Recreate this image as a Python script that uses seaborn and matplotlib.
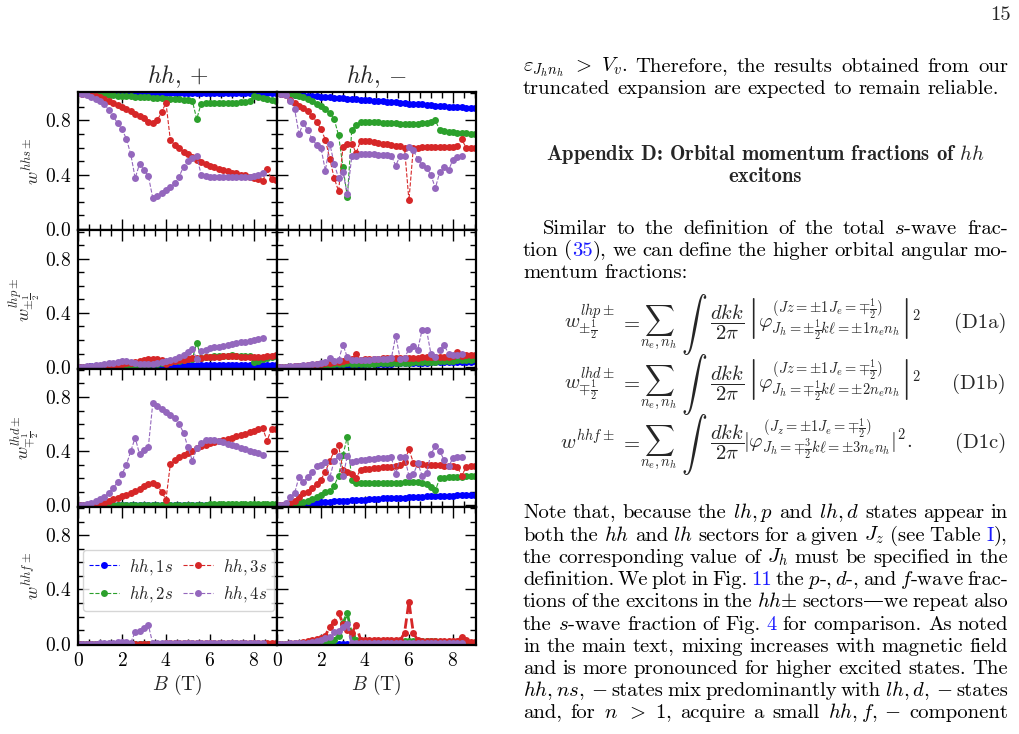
import re
import matplotlib
matplotlib.use("Agg")
import matplotlib.pyplot as plt
from matplotlib.ticker import MultipleLocator
import seaborn as sns

# ---------------------------------------------------------
# data: orbital fractions vs B, grid 0 .. 9 T
# ---------------------------------------------------------
B = [0.0, 0.2, 0.4, 0.6, 0.8, 1.0, 1.2, 1.4, 1.6, 1.8,
     2.0, 2.2, 2.4, 2.6, 2.8, 3.0, 3.2, 3.4, 3.6, 3.8,
     4.0, 4.2, 4.4, 4.6, 4.8, 5.0, 5.2, 5.4, 5.6, 5.8,
     6.0, 6.2, 6.4, 6.6, 6.8, 7.0, 7.2, 7.4, 7.6, 7.8,
     8.0, 8.2, 8.4, 8.6, 8.8, 9.0]

labels = [r'$hh,1s$', r'$hh,2s$', r'$hh,3s$', r'$hh,4s$']
colors = ['#0000ff', '#2ca02c', '#d62728', '#9467bd']

# s-wave, hh+
s_p1 = [1.0, 1.0, 1.0, 1.0, 1.0, 1.0, 1.0, 1.0, 1.0, 1.0,
        1.0, 1.0, 1.0, 1.0, 1.0, 1.0, 1.0, 1.0, 1.0, 1.0,
        1.0, 1.0, 1.0, 1.0, 1.0, 1.0, 1.0, 1.0, 1.0, 1.0,
        1.0, 1.0, 1.0, 1.0, 1.0, 1.0, 1.0, 1.0, 1.0, 1.0,
        1.0, 1.0, 1.0, 1.0, 1.0, 1.0]
s_p2 = [1.0, 1.0, 0.998, 0.996, 0.994, 0.992, 0.99, 0.988, 0.986, 0.984,
        0.982, 0.98, 0.978, 0.976, 0.974, 0.972, 0.97, 0.968, 0.966, 0.964,
        0.962, 0.96, 0.958, 0.955, 0.952, 0.948, 0.944, 0.81, 0.925, 0.928,
        0.93, 0.93, 0.93, 0.93, 0.93, 0.93, 0.932, 0.934, 0.936, 0.94,
        0.98, 0.972, 0.965, 0.958, 0.95, 0.94]
s_p3 = [1.0, 0.998, 0.995, 0.99, 0.98, 0.97, 0.96, 0.945, 0.93, 0.915,
        0.90, 0.885, 0.87, 0.85, 0.835, 0.815, 0.79, 0.78, 0.80, 0.86,
        0.93, 0.655, 0.62, 0.595, 0.57, 0.55, 0.53, 0.51, 0.495, 0.48,
        0.465, 0.455, 0.445, 0.435, 0.425, 0.415, 0.41, 0.40, 0.395, 0.385,
        0.375, 0.365, 0.35, 0.44, 0.365, 0.36]
s_p4 = [1.0, 0.998, 0.99, 0.975, 0.96, 0.945, 0.92, 0.88, 0.83, 0.78,
        0.735, 0.665, 0.55, 0.375, 0.48, 0.435, 0.39, 0.229, 0.245, 0.266,
        0.285, 0.307, 0.338, 0.385, 0.46, 0.50, 0.52, 0.535, 0.40, 0.39,
        0.385, 0.385, 0.385, 0.385, 0.385, 0.385, 0.385, 0.385, 0.385, 0.385,
        0.39, 0.395, 0.41]

# s-wave, hh-
s_m1 = [1.0, 0.998, 0.995, 0.993, 0.99, 0.988, 0.985, 0.983, 0.98, 0.978,
        0.975, 0.973, 0.97, 0.968, 0.965, 0.963, 0.96, 0.958, 0.955, 0.953,
        0.95, 0.948, 0.945, 0.943, 0.94, 0.938, 0.935, 0.933, 0.93, 0.928,
        0.925, 0.923, 0.92, 0.918, 0.915, 0.913, 0.91, 0.908, 0.905, 0.903,
        0.90, 0.898, 0.896, 0.894, 0.892, 0.89]
s_m2 = [1.0, 0.999, 0.997, 0.993, 0.988, 0.98, 0.97, 0.96, 0.945, 0.925,
        0.905, 0.885, 0.855, 0.81, 0.69, 0.456, 0.236, 0.73, 0.768, 0.786,
        0.79, 0.79, 0.788, 0.786, 0.784, 0.782, 0.78, 0.778, 0.776, 0.775,
        0.775, 0.775, 0.776, 0.778, 0.782, 0.79, 0.80, 0.73, 0.722, 0.718,
        0.714, 0.71, 0.707, 0.704, 0.70, 0.698]
s_m3 = [1.0, 0.995, 0.985, 0.95, 0.93, 0.905, 0.89, 0.87, 0.83, 0.79,
        0.736, 0.658, 0.516, 0.376, 0.278, 0.604, 0.625, 0.63, 0.56, 0.65,
        0.648, 0.645, 0.64, 0.635, 0.63, 0.625, 0.62, 0.615, 0.61, 0.595,
        0.21, 0.60, 0.60, 0.602, 0.604, 0.605, 0.605, 0.605, 0.605, 0.605,
        0.605, 0.61, 0.66, 0.60, 0.595, 0.595]
s_m4 = [1.0, 0.995, 0.985, 0.94, 0.884, 0.70, 0.78, 0.727, 0.663, 0.62,
        0.597, 0.43, 0.63, 0.48, 0.376, 0.418, 0.254, 0.536, 0.536, 0.549,
        0.55, 0.55, 0.55, 0.548, 0.546, 0.544, 0.54, 0.467, 0.54, 0.54,
        0.605, 0.58, 0.518, 0.47, 0.45, 0.40, 0.30, 0.418, 0.457, 0.433,
        0.51, 0.53, 0.536]

# p-wave, hh+
p_p1 = [0.0, 0.002, 0.004, 0.006, 0.008, 0.009, 0.01, 0.011, 0.012, 0.012,
        0.012, 0.012, 0.012, 0.012, 0.012, 0.012, 0.012, 0.012, 0.012, 0.012,
        0.013, 0.013, 0.013, 0.013, 0.013, 0.013, 0.013, 0.013, 0.013, 0.013,
        0.013, 0.013, 0.013, 0.013, 0.013, 0.013, 0.013, 0.013, 0.013, 0.013,
        0.014, 0.014, 0.014, 0.014, 0.014, 0.014]
p_p2 = [0.0, 0.0, 0.001, 0.001, 0.002, 0.002, 0.003, 0.004, 0.005, 0.006,
        0.007, 0.008, 0.01, 0.012, 0.014, 0.016, 0.019, 0.022, 0.025, 0.03,
        0.034, 0.038, 0.043, 0.048, 0.053, 0.058, 0.062, 0.18, 0.07, 0.075,
        0.078, 0.08, 0.082, 0.084, 0.085, 0.086, 0.085, 0.084, 0.082, 0.08,
        0.035, 0.045, 0.06, 0.07, 0.078, 0.082]
p_p3 = [0.0, 0.0, 0.001, 0.002, 0.004, 0.006, 0.008, 0.011, 0.014, 0.018,
        0.022, 0.027, 0.033, 0.04, 0.047, 0.053, 0.058, 0.061, 0.062, 0.05,
        0.025, 0.04, 0.045, 0.05, 0.055, 0.06, 0.065, 0.068, 0.07, 0.073,
        0.075, 0.077, 0.078, 0.079, 0.08, 0.08, 0.079, 0.078, 0.077, 0.076,
        0.075, 0.075, 0.076, 0.08, 0.085, 0.09]
p_p4 = [0.0, 0.003, 0.006, 0.01, 0.014, 0.018, 0.022, 0.027, 0.032, 0.037,
        0.042, 0.044, 0.04, 0.03, 0.025, 0.022, 0.022, 0.025, 0.03, 0.038,
        0.045, 0.05, 0.06, 0.075, 0.09, 0.11, 0.135, 0.06, 0.12, 0.125,
        0.14, 0.145, 0.15, 0.157, 0.163, 0.17, 0.176, 0.182, 0.188, 0.194,
        0.2, 0.208, 0.215]

# p-wave, hh-
p_m1 = [0.0, 0.001, 0.002, 0.003, 0.004, 0.005, 0.006, 0.007, 0.008, 0.009,
        0.01, 0.011, 0.012, 0.013, 0.014, 0.015, 0.016, 0.017, 0.018, 0.019,
        0.02, 0.021, 0.022, 0.023, 0.024, 0.025, 0.026, 0.027, 0.028, 0.029,
        0.03, 0.031, 0.032, 0.033, 0.034, 0.035, 0.035, 0.036, 0.037, 0.038,
        0.038, 0.039, 0.04, 0.04, 0.041, 0.042]
p_m2 = [0.0, 0.001, 0.002, 0.003, 0.004, 0.005, 0.006, 0.008, 0.01, 0.012,
        0.014, 0.016, 0.018, 0.02, 0.022, 0.024, 0.03, 0.022, 0.022, 0.023,
        0.024, 0.025, 0.026, 0.027, 0.028, 0.029, 0.03, 0.031, 0.032, 0.033,
        0.034, 0.035, 0.036, 0.037, 0.038, 0.039, 0.04, 0.045, 0.046, 0.047,
        0.048, 0.05, 0.052, 0.054, 0.056, 0.058]
p_m3 = [0.0, 0.001, 0.002, 0.004, 0.006, 0.008, 0.01, 0.013, 0.016, 0.02,
        0.024, 0.028, 0.032, 0.036, 0.04, 0.045, 0.05, 0.06, 0.095, 0.055,
        0.058, 0.06, 0.062, 0.063, 0.064, 0.065, 0.066, 0.067, 0.068, 0.069,
        0.07, 0.07, 0.071, 0.072, 0.073, 0.074, 0.075, 0.076, 0.077, 0.078,
        0.08, 0.11, 0.085, 0.09, 0.09, 0.092]
p_m4 = [0.0, 0.001, 0.003, 0.005, 0.008, 0.011, 0.014, 0.017, 0.02, 0.025,
        0.03, 0.04, 0.068, 0.045, 0.05, 0.164, 0.073, 0.05, 0.052, 0.053,
        0.055, 0.056, 0.057, 0.058, 0.06, 0.062, 0.065, 0.232, 0.061, 0.066,
        0.135, 0.154, 0.13, 0.276, 0.276, 0.098, 0.073, 0.13, 0.164, 0.098,
        0.093, 0.093, 0.095]

# d-wave, hh+
d_p1 = [0.0, 0.0, 0.0, 0.0, 0.0, 0.0, 0.0, 0.0, 0.0, 0.0,
        0.0, 0.0, 0.0, 0.0, 0.0, 0.0, 0.0, 0.0, 0.0, 0.0,
        0.0, 0.0, 0.0, 0.0, 0.0, 0.0, 0.0, 0.0, 0.0, 0.0,
        0.0, 0.0, 0.0, 0.0, 0.0, 0.0, 0.0, 0.0, 0.0, 0.0,
        0.0, 0.0, 0.0, 0.0, 0.0, 0.0]
d_p2 = [0.0, 0.0, 0.001, 0.001, 0.002, 0.002, 0.003, 0.003, 0.004, 0.004,
        0.005, 0.005, 0.005, 0.005, 0.005, 0.005, 0.005, 0.005, 0.005, 0.005,
        0.006, 0.006, 0.006, 0.006, 0.006, 0.006, 0.006, 0.006, 0.006, 0.006,
        0.007, 0.007, 0.007, 0.007, 0.007, 0.007, 0.007, 0.007, 0.007, 0.007,
        0.008, 0.008, 0.008, 0.008, 0.008, 0.008]
d_p3 = [0.0, 0.0, 0.0, 0.0, 0.002, 0.005, 0.02, 0.032, 0.045, 0.058,
        0.07, 0.08, 0.09, 0.105, 0.12, 0.14, 0.155, 0.163, 0.15, 0.10,
        0.043, 0.305, 0.336, 0.356, 0.37, 0.385, 0.40, 0.42, 0.437, 0.447,
        0.457, 0.465, 0.472, 0.48, 0.49, 0.50, 0.51, 0.52, 0.53, 0.545,
        0.55, 0.56, 0.57, 0.476, 0.565, 0.565]
d_p4 = [0.0, 0.002, 0.008, 0.018, 0.03, 0.045, 0.065, 0.09, 0.13, 0.17,
        0.23, 0.30, 0.40, 0.50, 0.377, 0.41, 0.433, 0.752, 0.733, 0.71,
        0.692, 0.668, 0.642, 0.60, 0.536, 0.428, 0.33, 0.42, 0.46, 0.48,
        0.485, 0.48, 0.475, 0.465, 0.455, 0.445, 0.435, 0.425, 0.415, 0.405,
        0.395, 0.385, 0.373]

# d-wave, hh-
d_m1 = [0.0, 0.001, 0.002, 0.004, 0.006, 0.008, 0.011, 0.014, 0.017, 0.02,
        0.023, 0.025, 0.027, 0.029, 0.031, 0.033, 0.035, 0.037, 0.039, 0.041,
        0.043, 0.045, 0.047, 0.049, 0.051, 0.052, 0.054, 0.055, 0.057, 0.058,
        0.06, 0.061, 0.063, 0.064, 0.066, 0.067, 0.068, 0.07, 0.071, 0.072,
        0.073, 0.074, 0.075, 0.076, 0.077, 0.078]
d_m2 = [0.0, 0.001, 0.003, 0.006, 0.01, 0.016, 0.024, 0.036, 0.048, 0.062,
        0.077, 0.096, 0.108, 0.144, 0.22, 0.371, 0.508, 0.187, 0.168, 0.165,
        0.163, 0.162, 0.162, 0.163, 0.164, 0.165, 0.166, 0.167, 0.168, 0.17,
        0.172, 0.174, 0.172, 0.165, 0.156, 0.135, 0.11, 0.2, 0.205, 0.208,
        0.21, 0.212, 0.213, 0.214, 0.215, 0.215]
d_m3 = [0.0, 0.003, 0.01, 0.02, 0.036, 0.06, 0.09, 0.10, 0.125, 0.156,
        0.19, 0.25, 0.328, 0.40, 0.443, 0.26, 0.25, 0.235, 0.204, 0.263,
        0.27, 0.272, 0.275, 0.278, 0.28, 0.283, 0.286, 0.29, 0.30, 0.323,
        0.414, 0.316, 0.306, 0.303, 0.30, 0.30, 0.298, 0.296, 0.294, 0.292,
        0.29, 0.285, 0.22, 0.28, 0.287, 0.29]
d_m4 = [0.0, 0.005, 0.015, 0.06, 0.09, 0.21, 0.172, 0.21, 0.25, 0.287,
        0.30, 0.32, 0.204, 0.33, 0.364, 0.215, 0.364, 0.323, 0.33, 0.335,
        0.338, 0.34, 0.343, 0.346, 0.349, 0.352, 0.354, 0.232, 0.354, 0.355,
        0.22, 0.228, 0.31, 0.22, 0.24, 0.38, 0.436, 0.40, 0.335, 0.287,
        0.347, 0.354, 0.354]

# f-wave, hh+
f_p1 = [0.0, 0.0, 0.0, 0.0, 0.0, 0.0, 0.0, 0.0, 0.0, 0.0,
        0.0, 0.0, 0.0, 0.0, 0.0, 0.0, 0.0, 0.0, 0.0, 0.0,
        0.0, 0.0, 0.0, 0.0, 0.0, 0.0, 0.0, 0.0, 0.0, 0.0,
        0.0, 0.0, 0.0, 0.0, 0.0, 0.0, 0.0, 0.0, 0.0, 0.0,
        0.0, 0.0, 0.0, 0.0, 0.0, 0.0]
f_p2 = [0.0, 0.0, 0.0, 0.0, 0.0, 0.0, 0.0, 0.0, 0.0, 0.0,
        0.0, 0.0, 0.0, 0.0, 0.0, 0.0, 0.0, 0.0, 0.0, 0.0,
        0.001, 0.001, 0.001, 0.001, 0.001, 0.001, 0.001, 0.001, 0.001, 0.001,
        0.001, 0.001, 0.001, 0.001, 0.001, 0.001, 0.001, 0.001, 0.001, 0.001,
        0.001, 0.001, 0.001, 0.001, 0.001, 0.001]
f_p3 = [0.0, 0.0, 0.0, 0.0, 0.0, 0.0, 0.0, 0.0, 0.0, 0.0,
        0.001, 0.001, 0.001, 0.001, 0.001, 0.001, 0.001, 0.001, 0.001, 0.001,
        0.002, 0.002, 0.002, 0.002, 0.002, 0.002, 0.002, 0.002, 0.002, 0.002,
        0.002, 0.002, 0.002, 0.002, 0.002, 0.002, 0.002, 0.002, 0.002, 0.002,
        0.002, 0.002, 0.002, 0.002, 0.002, 0.002]
f_p4 = [0.0, 0.0, 0.0, 0.0, 0.001, 0.002, 0.003, 0.005, 0.008, 0.012,
        0.015, 0.012, 0.008, 0.086, 0.094, 0.118, 0.135, 0.002, 0.002, 0.002,
        0.002, 0.002, 0.002, 0.002, 0.002, 0.002, 0.002, 0.002, 0.002, 0.002,
        0.002, 0.002, 0.002, 0.002, 0.002, 0.002, 0.002, 0.002, 0.002, 0.002,
        0.002, 0.002, 0.002]

# f-wave, hh-
f_m1 = [0.0, 0.0, 0.0, 0.0, 0.0, 0.0, 0.0, 0.0, 0.0, 0.0,
        0.0, 0.0, 0.0, 0.0, 0.0, 0.0, 0.0, 0.0, 0.0, 0.0,
        0.0, 0.0, 0.0, 0.0, 0.0, 0.0, 0.0, 0.0, 0.0, 0.0,
        0.0, 0.0, 0.0, 0.0, 0.0, 0.0, 0.0, 0.0, 0.0, 0.0,
        0.0, 0.0, 0.0, 0.0, 0.0, 0.0]
f_m2 = [0.0, 0.0, 0.0, 0.0, 0.001, 0.001, 0.002, 0.003, 0.004, 0.005,
        0.007, 0.01, 0.015, 0.03, 0.06, 0.15, 0.227, 0.06, 0.025, 0.022,
        0.022, 0.022, 0.022, 0.022, 0.022, 0.022, 0.022, 0.022, 0.022, 0.022,
        0.022, 0.022, 0.022, 0.022, 0.022, 0.022, 0.02, 0.015, 0.012, 0.01,
        0.01, 0.01, 0.01, 0.008, 0.008, 0.008]
f_m3 = [0.0, 0.0, 0.001, 0.002, 0.003, 0.008, 0.012, 0.018, 0.025, 0.035,
        0.045, 0.06, 0.123, 0.16, 0.227, 0.148, 0.10, 0.079, 0.135, 0.03,
        0.028, 0.027, 0.027, 0.026, 0.026, 0.025, 0.025, 0.025, 0.025, 0.079,
        0.31, 0.079, 0.025, 0.022, 0.022, 0.021, 0.021, 0.02, 0.02, 0.02,
        0.02, 0.02, 0.05, 0.025, 0.015, 0.012]
f_m4 = [0.0, 0.0, 0.001, 0.002, 0.003, 0.004, 0.006, 0.008, 0.012, 0.018,
        0.025, 0.04, 0.05, 0.086, 0.094, 0.123, 0.148, 0.003, 0.003, 0.003,
        0.003, 0.003, 0.003, 0.003, 0.003, 0.003, 0.003, 0.003, 0.003, 0.003,
        0.003, 0.003, 0.003, 0.003, 0.003, 0.003, 0.003, 0.003, 0.003, 0.003,
        0.003, 0.003, 0.003]

row_labels = [r'$w^{hhs\pm}$', r'$w^{lhp\pm}_{\pm\frac{1}{2}}$',
              r'$w^{lhd\pm}_{\mp\frac{1}{2}}$', r'$w^{hhf\pm}$']
col_titles = [r'$hh,+$', r'$hh,-$']
panels = [
    [[s_p1, s_p2, s_p3, s_p4], [s_m1, s_m2, s_m3, s_m4]],
    [[p_p1, p_p2, p_p3, p_p4], [p_m1, p_m2, p_m3, p_m4]],
    [[d_p1, d_p2, d_p3, d_p4], [d_m1, d_m2, d_m3, d_m4]],
    [[f_p1, f_p2, f_p3, f_p4], [f_m1, f_m2, f_m3, f_m4]],
]

# ---------------------------------------------------------
# style
# ---------------------------------------------------------
sns.set_style("ticks")
plt.rcParams['font.family'] = ['cmr10', 'DejaVu Serif']
plt.rcParams['mathtext.fontset'] = 'cm'
plt.rcParams['axes.formatter.use_mathtext'] = True
plt.rcParams['axes.unicode_minus'] = False

W, H = 1019, 734
fig = plt.figure(figsize=(W / 100, H / 100), dpi=100)
gs = fig.add_gridspec(4, 2, left=78 / W, right=476 / W,
                      top=1 - 92 / H, bottom=1 - 645 / H, hspace=0, wspace=0)
axes = [[fig.add_subplot(gs[r, c]) for c in range(2)] for r in range(4)]

for r in range(4):
    for c in range(2):
        ax = axes[r][c]
        lw = 2.0 if (r == 3 and c == 1) else 0.8
        for k, vals in enumerate(panels[r][c]):
            sns.lineplot(x=B[:len(vals)], y=vals, ax=ax, color=colors[k],
                         marker='o', markersize=5, markeredgewidth=0,
                         linestyle='--', linewidth=lw)
        ax.set_xlim(0, 9.05)
        ax.set_ylim(-0.01, 1.01)
        ax.xaxis.set_major_locator(MultipleLocator(2))
        ax.xaxis.set_minor_locator(MultipleLocator(0.5))
        ax.yaxis.set_major_locator(MultipleLocator(0.4))
        ax.yaxis.set_minor_locator(MultipleLocator(0.1))
        ax.tick_params(which='both', direction='in', top=True, right=True,
                       labelsize=14, width=1.0, colors='black')
        ax.tick_params(which='major', length=8, pad=5)
        ax.tick_params(which='minor', length=4.5)
        for sp in ax.spines.values():
            sp.set_linewidth(1.6)
            sp.set_color('black')
        ax.set_xlabel('')
        ax.set_ylabel('')
        if c == 1:
            ax.tick_params(labelleft=False)
        else:
            ax.set_ylabel(row_labels[r], fontsize=13, labelpad=2)
        if r < 3:
            ax.tick_params(labelbottom=False)
        else:
            ax.set_xlabel(r'$B$ (T)', fontsize=14, labelpad=2)
        if r == 0:
            ax.set_title(col_titles[c], fontsize=17, pad=6)

leg_ax = axes[3][0]
leg_ax.legend(leg_ax.get_lines()[:4], labels, ncol=2, loc='center',
              bbox_to_anchor=(0.505, 0.467), fontsize=12, handlelength=1.8,
              handletextpad=0.6, columnspacing=0.6, borderpad=0.4,
              labelspacing=0.45, frameon=True, framealpha=0.8,
              edgecolor='0.8', fancybox=True)

# ---------------------------------------------------------
# page text on the right
# ---------------------------------------------------------
FS = 14.9
TX0, TX1 = 523, 1008
LINK = '#1a1aff'
renderer = fig.canvas.get_renderer()


def width_px(s, size=FS):
    t = fig.text(0, 0, s, fontsize=size)
    w = t.get_window_extent(renderer=renderer).width
    t.remove()
    return w


SPACE = width_px('n n') - width_px('nn')


def segments(word):
    out = []
    for part in re.split(r'(\[[^\]]*\])', word):
        if part:
            if part.startswith('['):
                out.append((part[1:-1], LINK))
            else:
                out.append((part, 'black'))
    return out


def put_line(line, y, x0=TX0, justify=True):
    words = [segments(w) for w in line.split()]
    widths = [[width_px(s) for s, _ in segs] for segs in words]
    total = sum(sum(ws) for ws in widths)
    gap = (TX1 - x0 - total) / (len(words) - 1) if justify and len(words) > 1 else SPACE
    x = x0
    for segs, ws in zip(words, widths):
        for (s, col), w in zip(segs, ws):
            fig.text(x / W, 1 - y / H, s, fontsize=FS, color=col,
                     ha='left', va='baseline')
            x += w
        x += gap


def fy(y):
    return 1 - y / H


fig.text(1011 / W, fy(20), '15', fontsize=FS, ha='right', va='baseline')

put_line(r'$\varepsilon_{J_hn_h}$ $>$ $V_v$. Therefore, the results obtained from our', 71.5)
put_line('truncated expansion are expected to remain reliable.', 93.5, justify=False)

fig.text(765 / W, fy(160.5), r'Appendix D: Orbital momentum fractions of $hh$',
         fontsize=FS, family='cmb10', ha='center', va='baseline')
fig.text(765 / W, fy(182), 'excitons', fontsize=FS, family='cmb10',
         ha='center', va='baseline')

put_line(r'Similar to the definition of the total $s$-wave frac-', 233.5, x0=543)
put_line(r'tion ([35]), we can define the higher orbital angular mo-', 255.5)
put_line('mentum fractions:', 277.5, justify=False)

# display equations, built from pieces so the integral can be drawn large
eqs = [
    (r'$w^{lhp\pm}_{\pm\frac{1}{2}}$',
     r'$\left|\varphi^{(Jz=\pm1J_e=\mp\frac{1}{2})}_{J_h=\pm\frac{1}{2}k\ell=\pm1n_en_h}\right|^2$',
     '(D1a)', 328, 747),
    (r'$w^{lhd\pm}_{\mp\frac{1}{2}}$',
     r'$\left|\varphi^{(Jz=\pm1J_e=\mp\frac{1}{2})}_{J_h=\mp\frac{1}{2}k\ell=\pm2n_en_h}\right|^2$',
     '(D1b)', 388.5, 747),
    (r'$w^{hhf\pm}$',
     r'$|\varphi^{(J_z=\pm1J_e=\mp\frac{1}{2})}_{J_h=\mp\frac{3}{2}k\ell=\pm3n_en_h}|^2.$',
     '(D1c)', 448, 743),
]
for lhs, rest, tag, y, xr in eqs:
    fig.text(615 / W, fy(y), lhs, fontsize=FS, ha='right', va='baseline')
    fig.text(620 / W, fy(y), r'$=$', fontsize=FS, ha='left', va='baseline')
    fig.text(640 / W, fy(y), r'$\sum_{n_e,n_h}$', fontsize=FS, ha='left', va='baseline')
    fig.text(681 / W, fy(y - 4), r'$\int$', fontsize=18.5, ha='left', va='center')
    fig.text(710 / W, fy(y), r'$\dfrac{dkk}{2\pi}$', fontsize=FS, ha='left', va='baseline')
    fig.text(xr / W, fy(y), rest, fontsize=FS, ha='left', va='baseline')
    fig.text(1006 / W, fy(y), tag, fontsize=FS, ha='right', va='baseline')

para = [
    r'Note that, because the $lh,p$ and $lh,d$ states appear in',
    r'both the $hh$ and $lh$ sectors for a given $J_z$ (see Table [I]),',
    r'the corresponding value of $J_h$ must be specified in the',
    r'definition. We plot in Fig. [11] the $p$-, $d$-, and $f$-wave frac-',
    r'tions of the excitons in the $hh{\pm}$ sectors—we repeat also',
    r'the $s$-wave fraction of Fig. [4] for comparison. As noted',
    r'in the main text, mixing increases with magnetic field',
    r'and is more pronounced for higher excited states. The',
    r'$hh,ns,-$ states mix predominantly with $lh,d,-$ states',
    r'and, for $n$ $>$ $1$, acquire a small $hh,f,-$ component',
]
for i, line in enumerate(para):
    put_line(line, 518.5 + 22.2 * i)

fig.savefig('out.png', dpi=100)
